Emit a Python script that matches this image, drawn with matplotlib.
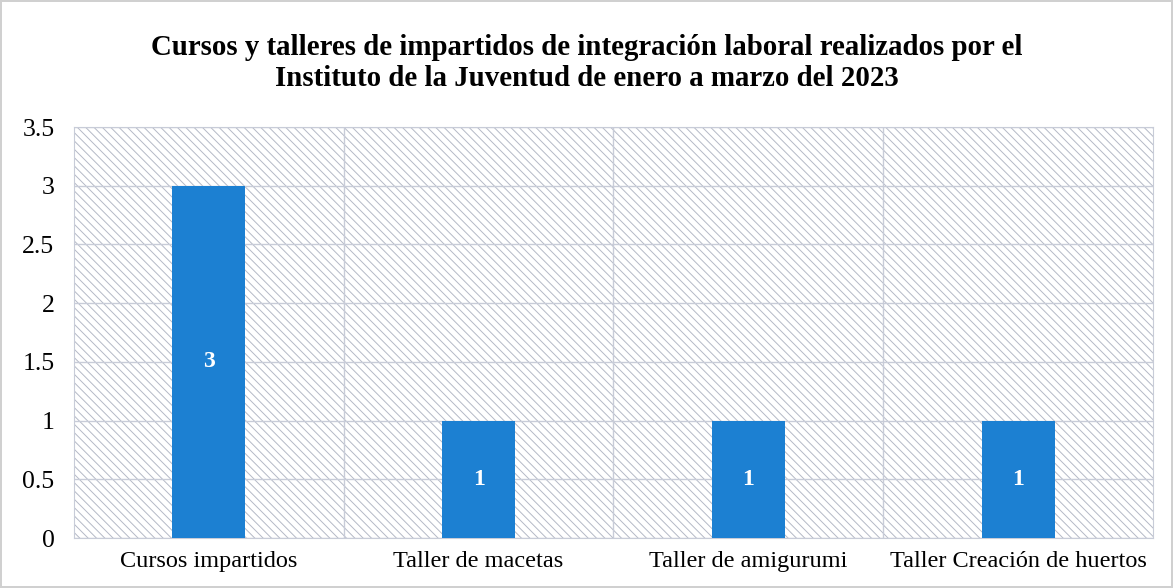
import matplotlib.pyplot as plt
from matplotlib.patches import Rectangle
import numpy as np

categorias = ["Cursos impartidos", "Taller de macetas", "Taller de amigurumi", "Taller Creación de huertos"]
valores = [3, 1, 1, 1]
yticks = [0, 0.5, 1, 1.5, 2, 2.5, 3, 3.5]
ytick_labels = ["0", "0.5", "1", "1.5", "2", "2.5", "3", "3.5"]

plt.rcParams["font.family"] = ["Liberation Serif", "DejaVu Serif"]
plt.rcParams["hatch.linewidth"] = 0.7

fig = plt.figure(figsize=(11.73, 5.88), dpi=100)
fig.patch.set_edgecolor("#D0D0D0")
fig.patch.set_linewidth(1.5)
ax = fig.add_axes([0.063, 0.085, 0.92, 0.699])

# fondo rayado del area del grafico
ax.add_patch(Rectangle((0, 0), 1, 1, transform=ax.transAxes, facecolor="white",
                       edgecolor="#B4B9C6", linewidth=0, hatch="\\\\\\\\", zorder=0))

x = np.arange(len(categorias))
bars = ax.bar(x, valores, width=0.27, color="#1C80D2", zorder=3)
ax.bar_label(bars, labels=[str(v) for v in valores], label_type="center",
             color="white", fontsize=17, fontweight="bold")

ax.set_xlim(-0.5, len(categorias) - 0.5)
ax.set_ylim(0, 3.5)
ax.set_yticks(yticks)
ax.set_yticklabels(ytick_labels, fontsize=18.5)
ax.set_xticks(x)
ax.set_xticklabels(categorias, fontsize=17.5)
ax.set_xticks(x[:-1] + 0.5, minor=True)
ax.tick_params(axis="both", which="both", length=0)
ax.tick_params(axis="y", pad=14)
ax.tick_params(axis="x", pad=9)

ax.grid(True, axis="y", color="#C8CCD8", linewidth=1, zorder=1)
ax.grid(True, axis="x", which="minor", color="#C8CCD8", linewidth=1, zorder=1)
ax.set_axisbelow(True)
for s in ax.spines.values():
    s.set_color("#C8CCD8")

fig.suptitle("Cursos y talleres de impartidos de integración laboral realizados por el\n"
             "Instituto de la Juventud de enero a marzo del 2023",
             fontsize=20.8, fontweight="bold", x=0.5, y=0.943, linespacing=1.2)

fig.savefig("out.png", dpi=100)
